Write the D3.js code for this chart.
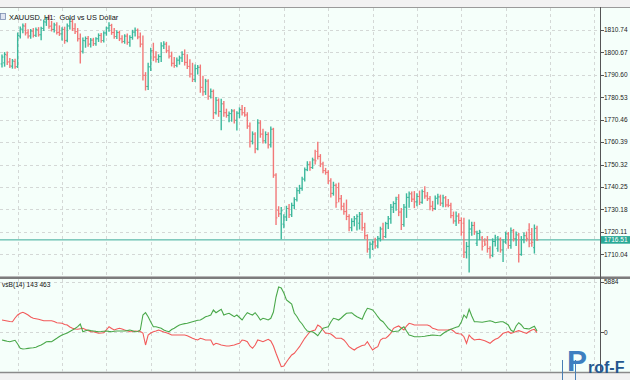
<!DOCTYPE html>
<html><head><meta charset="utf-8">
<script src="https://cdn.jsdelivr.net/npm/d3@7"></script>
<style>body{margin:0;background:#fff}svg{display:block}</style>
</head><body>
<svg id="c" width="630" height="380"></svg>
<script>
const opens = [1795.5,1796.0,1799.5,1796.5,1794.5,1796.6,1794.3,1808.0,1810.8,1812.5,
1809.5,1808.1,1810.2,1808.4,1810.8,1808.6,1811.4,1814.3,1815.6,1812.5,
1811.0,1813.0,1809.7,1809.0,1811.0,1806.1,1812.5,1814.6,1811.3,1810.0,
1806.8,1801.2,1805.9,1806.9,1804.4,1806.2,1804.6,1806.8,1808.3,1806.0,
1809.4,1811.6,1812.8,1809.6,1807.8,1809.6,1806.8,1805.6,1808.0,1805.2,
1807.4,1809.8,1810.6,1807.6,1804.4,1790.4,1785.4,1794.2,1801.4,1798.6,
1797.6,1798.8,1803.6,1804.4,1801.4,1799.0,1795.8,1794.8,1797.2,1798.2,
1799.8,1796.2,1794.4,1791.0,1788.6,1793.4,1794.0,1785.0,1783.0,1787.8,
1781.0,1783.2,1773.6,1779.2,1774.2,1777.6,1773.6,1772.4,1773.2,1774.4,
1770.2,1773.4,1775.0,1773.6,1772.6,1767.6,1760.8,1764.0,1757.4,1769.0,
1764.0,1761.0,1763.8,1759.2,1766.2,1745.6,1729.8,1728.2,1723.6,1726.8,
1730.6,1727.8,1732.0,1734.6,1738.6,1739.6,1743.8,1748.0,1750.4,1749.0,
1752.4,1756.2,1754.0,1750.6,1747.6,1746.8,1743.0,1737.4,1741.0,1740.0,
1735.0,1731.6,1729.2,1727.0,1722.0,1724.8,1726.0,1724.0,1728.0,1722.0,
1718.4,1712.4,1714.6,1715.6,1713.8,1717.2,1721.4,1718.0,1723.8,1726.0,
1731.2,1732.8,1735.6,1729.0,1723.4,1731.2,1735.6,1737.2,1734.8,1733.6,
1736.0,1733.4,1738.2,1736.2,1735.0,1731.6,1730.6,1735.2,1735.8,1733.0,
1735.4,1732.2,1732.0,1727.4,1725.0,1727.2,1725.2,1724.0,1711.0,1713.6,
1721.4,1723.0,1715.0,1719.4,1717.4,1716.0,1716.4,1712.6,1709.6,1715.8,
1712.6,1716.8,1712.0,1715.6,1719.2,1714.0,1720.6,1717.0,1718.6,1710.0,
1716.6,1718.4,1721.0,1719.0,1713.0,1721.8];
const highs = [1799.5,1800.6,1800.9,1797.9,1797.5,1797.6,1809.4,1812.1,1813.4,1813.6,
1810.9,1811.0,1811.4,1811.6,1811.8,1812.0,1815.2,1816.4,1817.4,1814.6,
1813.8,1814.0,1812.6,1811.8,1812.0,1813.4,1815.8,1815.2,1813.6,1811.4,
1809.0,1807.2,1807.6,1807.8,1806.9,1807.0,1807.3,1809.0,1809.2,1810.0,
1812.0,1814.0,1813.3,1811.4,1810.4,1810.2,1808.2,1808.6,1809.0,1808.2,
1810.6,1811.6,1811.2,1809.4,1808.0,1791.6,1795.8,1802.6,1804.8,1801.0,
1799.6,1805.0,1805.5,1805.2,1803.6,1800.8,1798.4,1798.2,1799.0,1801.0,
1801.8,1799.6,1797.4,1795.8,1795.0,1794.8,1795.0,1790.0,1788.6,1788.4,
1784.2,1783.8,1780.4,1779.8,1779.6,1778.6,1775.2,1773.9,1775.0,1774.9,
1774.0,1775.8,1776.8,1776.0,1773.6,1769.0,1765.0,1764.6,1770.4,1770.0,
1766.2,1765.0,1764.6,1767.2,1766.6,1746.2,1731.4,1731.0,1727.8,1731.6,
1732.4,1733.0,1735.4,1739.8,1741.0,1744.6,1748.8,1751.6,1751.6,1753.2,
1756.8,1760.4,1754.8,1751.4,1748.6,1747.6,1744.0,1742.4,1741.6,1742.0,
1736.4,1733.0,1734.4,1727.8,1726.0,1727.0,1727.8,1728.8,1728.8,1724.0,
1718.8,1715.6,1716.0,1717.2,1718.0,1722.2,1724.0,1724.4,1727.0,1732.4,
1733.6,1735.6,1736.8,1730.6,1732.4,1737.2,1738.0,1738.0,1738.2,1737.2,
1738.4,1738.9,1740.4,1737.8,1736.0,1733.8,1736.2,1737.0,1736.6,1736.6,
1736.0,1734.6,1733.0,1729.0,1729.0,1728.2,1726.4,1726.2,1715.4,1725.4,
1724.4,1724.4,1720.4,1720.8,1718.0,1717.0,1718.0,1713.4,1717.0,1718.6,
1718.0,1717.4,1716.6,1720.0,1719.8,1721.8,1721.2,1720.0,1719.4,1718.0,
1719.6,1720.0,1723.8,1721.6,1723.2,1722.6];
const lows = [1794.1,1794.5,1795.2,1793.9,1793.6,1793.6,1793.9,1807.1,1809.5,1808.5,
1807.2,1807.0,1807.6,1807.8,1808.0,1806.4,1810.5,1812.8,1811.5,1810.3,
1809.8,1808.9,1808.3,1806.2,1804.8,1805.5,1811.2,1810.5,1809.2,1805.8,
1795.9,1800.4,1803.0,1803.4,1803.1,1803.8,1803.9,1805.6,1805.2,1805.4,
1808.4,1810.2,1808.8,1807.0,1806.9,1806.0,1805.0,1804.8,1804.3,1803.4,
1806.6,1808.0,1806.8,1803.2,1788.3,1783.8,1784.0,1792.6,1797.0,1796.4,
1796.2,1796.6,1802.4,1800.6,1798.2,1794.6,1794.0,1794.2,1795.4,1796.6,
1795.0,1793.4,1789.6,1787.6,1787.6,1791.0,1782.8,1781.4,1781.8,1779.6,
1780.2,1771.0,1773.0,1772.0,1766.0,1772.0,1771.6,1769.6,1769.8,1769.0,
1765.8,1771.4,1772.6,1772.0,1766.6,1758.2,1759.6,1755.6,1757.0,1762.6,
1760.0,1760.0,1757.8,1758.2,1744.6,1723.4,1727.0,1717.0,1722.0,1725.2,
1726.6,1727.0,1730.6,1734.0,1737.4,1738.8,1743.0,1747.6,1747.8,1748.6,
1750.6,1752.8,1749.4,1746.6,1746.0,1741.8,1735.8,1736.6,1731.2,1733.6,
1730.0,1728.0,1725.6,1720.6,1720.6,1722.8,1721.0,1721.4,1720.8,1717.0,
1711.0,1708.4,1712.2,1712.8,1713.0,1716.0,1716.8,1717.6,1721.6,1724.0,
1728.8,1729.8,1727.4,1721.2,1722.6,1726.6,1731.2,1733.8,1731.0,1731.8,
1732.4,1733.0,1735.2,1734.2,1730.0,1729.6,1730.2,1732.6,1732.0,1731.4,
1731.4,1731.4,1726.4,1724.0,1723.0,1724.0,1718.6,1708.6,1708.4,1702.1,
1718.6,1719.0,1714.0,1716.6,1712.0,1714.0,1711.0,1708.4,1709.0,1713.8,
1711.4,1711.0,1706.8,1715.0,1712.8,1712.8,1716.0,1714.0,1706.6,1709.6,
1715.2,1716.0,1713.4,1713.6,1710.6,1716.4];
const closes = [1798.6,1799.8,1796.3,1794.6,1796.8,1794.2,1808.2,1811.2,1812.6,1809.4,
1808.0,1810.3,1808.3,1810.9,1808.6,1811.5,1814.4,1815.6,1812.4,1811.0,
1813.0,1809.6,1809.0,1811.0,1806.0,1812.6,1814.6,1811.3,1810.0,1806.8,
1801.0,1806.0,1806.9,1804.4,1806.2,1804.6,1806.8,1808.3,1806.0,1809.4,
1811.6,1812.8,1809.6,1807.8,1809.6,1806.8,1805.6,1808.0,1805.2,1807.4,
1809.8,1810.6,1807.6,1804.4,1790.4,1785.4,1794.2,1801.4,1798.6,1797.6,
1798.8,1803.6,1804.4,1801.4,1799.0,1795.8,1794.8,1797.2,1798.2,1799.8,
1796.2,1794.4,1791.0,1788.6,1793.4,1794.0,1785.0,1783.0,1787.8,1781.0,
1783.2,1773.6,1779.2,1774.2,1777.6,1773.6,1772.4,1773.2,1774.4,1770.2,
1773.4,1775.0,1773.6,1772.6,1767.6,1760.8,1764.0,1757.4,1769.0,1764.0,
1761.0,1763.8,1759.2,1766.2,1745.6,1726.4,1728.2,1729.6,1726.8,1730.6,
1727.8,1732.0,1734.6,1738.6,1739.6,1743.8,1748.0,1750.4,1749.0,1752.4,
1752.0,1754.0,1750.6,1747.6,1746.8,1743.0,1737.4,1741.0,1733.2,1735.0,
1731.6,1729.2,1727.0,1722.0,1724.8,1726.0,1727.0,1728.0,1722.0,1718.4,
1712.4,1714.6,1715.6,1713.8,1717.2,1721.4,1718.0,1723.8,1726.0,1731.2,
1732.8,1734.8,1729.0,1723.4,1731.2,1735.6,1737.2,1734.8,1733.6,1736.0,
1733.4,1738.2,1736.2,1735.0,1731.6,1730.6,1735.2,1735.8,1733.0,1735.4,
1732.2,1732.0,1727.4,1725.0,1727.2,1725.2,1720.0,1711.0,1713.6,1721.4,
1723.0,1720.2,1719.4,1720.0,1713.6,1714.6,1712.6,1709.6,1715.8,1717.4,
1716.8,1712.0,1715.6,1719.2,1714.0,1720.6,1717.0,1719.0,1710.0,1716.6,
1718.4,1717.2,1715.0,1715.4,1721.6,1716.51];
// indicator vsB(14): green buffer and red buffer
const vsbGreen = [-896,-965,-1047,-1093,-1012,-930,-1361,-1861,-1942,-1919,
-1872,-1826,-1791,-1733,-1593,-1477,-1303,-1093,-1070,-1093,
-896,-698,-488,-314,-198,-81,93,267,442,651,
965,70,174,267,198,151,105,70,93,128,
151,105,70,116,151,151,151,151,198,267,
174,70,93,267,2012,2279,1814,1198,651,651,
558,465,267,151,70,326,465,675,849,930,
1012,1047,1140,1233,1314,1396,1430,1605,1814,1896,
2012,2593,2279,2477,2675,2012,2128,2210,2012,1814,
2012,1721,1430,1896,2279,2128,2012,2279,1896,1430,
1628,1547,1430,1628,2361,4105,5268,5152,4571,3756,
3524,3291,2245,1838,1314,965,500,151,70,70,
-140,-395,35,465,558,651,1198,1628,1547,1430,
1663,1954,2210,2245,2279,2012,1814,1663,1512,2245,
2791,2710,2593,2245,1814,1430,1233,849,465,209,
70,116,151,442,651,151,-314,-407,-512,-512,
-512,-488,-454,-395,-361,-314,-337,-372,-395,-140,
70,209,349,465,582,675,1198,2012,1663,2675,
1896,1233,1233,1198,1163,1233,1291,1349,1256,1116,
1175,1233,1233,1047,849,267,70,733,1116,849,
465,430,384,558,698,143];
const vsbRed = [1430,1372,1314,1256,1233,1663,2012,2210,2326,2186,
2012,1779,1628,1570,1512,1430,1349,1349,1349,1349,
1256,1116,1082,1047,907,849,616,465,384,349,
407,465,326,209,70,70,-23,-116,-81,-47,
267,651,442,267,384,465,384,267,174,70,
93,151,128,93,-81,-1477,-314,-81,70,151,
267,151,35,-47,-174,-314,-314,-314,-314,-314,
-314,-407,-547,-698,-802,-896,-698,-779,-896,-896,
-896,-1477,-1279,-1361,-1477,-1535,-1593,-1593,-1535,-1477,
-1361,-1279,-896,-954,-1093,-1593,-1861,-1477,-896,-977,
-1093,-954,-814,-1012,-1593,-2442,-3222,-4001,-3919,-3454,
-3024,-2640,-2442,-2059,-1675,-1186,-698,-314,70,174,
267,849,651,267,-116,-116,-198,-430,-698,-698,
-698,-896,-1244,-1675,-1884,-2059,-1826,-1675,-1535,-1477,
-1093,-1593,-2059,-1826,-1675,-896,-698,-698,-430,-116,
465,616,733,500,267,733,1047,965,849,849,
849,849,849,849,733,465,384,267,267,267,
267,291,349,151,-116,-163,-198,-512,-1279,-314,
-663,-896,-837,-814,-896,-977,-1128,-1279,-1012,-814,
-698,-430,-116,-23,70,-116,-23,93,186,93,
-23,-116,93,267,349,-47];
const priceTicks = [1810.74,1800.67,1790.60,1780.53,1770.46,1760.39,1750.32,1740.25,1730.18,1720.11,1710.04];
const indTicks = [5884, 0];
const gridBars = [6,23,40,57,74,91,108,125,142,159,176,193,210,227];
const lastPrice = 1716.51;
const chartTitle = "XAUUSD, H1:  Gold vs US Dollar";
const indTitle = "vsB(14) 143 463";

const W=630,H=380, AX=600, MT=8, MB=276, IT=279, IB=372;
const N = closes.length;
const FONT = "'Liberation Sans', Arial, sans-serif";
const BG='#f5fffa', UP='#3cb89c', DN='#f27878', GRID='#d4d8d6', TXT='#222';
const svg = d3.select('#c');
const x = d3.scaleLinear().domain([0, N-1]).range([2, 537]);
const y = d3.scaleLinear().domain([1710.04, 1810.74]).range([254.3, 30]);
const yi = d3.scaleLinear().domain([0, 5884]).range([332.3, 281.7]);

const defs = svg.append('defs');
defs.append('clipPath').attr('id','cm').append('rect').attr('x',0).attr('y',MT).attr('width',AX).attr('height',MB-MT);
defs.append('clipPath').attr('id','ci').append('rect').attr('x',0).attr('y',IT).attr('width',AX).attr('height',IB-IT);

svg.append('rect').attr('width',W).attr('height',H).attr('fill','#f2f2f2');
svg.append('rect').attr('x',0).attr('y',MT).attr('width',W).attr('height',MB-MT).attr('fill',BG);
svg.append('rect').attr('x',0).attr('y',IT).attr('width',W).attr('height',IB-IT).attr('fill',BG);
svg.append('line').attr('x1',0).attr('x2',W).attr('y1',7.5).attr('y2',7.5).attr('stroke','#9a9a9a');
svg.append('rect').attr('x',0).attr('y',MB+0.5).attr('width',W).attr('height',2.5).attr('fill','#7c7c7c');
svg.append('line').attr('x1',0).attr('x2',W).attr('y1',IB+0.5).attr('y2',IB+0.5).attr('stroke','#8a8a8a').attr('stroke-width',1.5);

// grids
const gm = svg.append('g').attr('clip-path','url(#cm)');
const gi = svg.append('g').attr('clip-path','url(#ci)');
gm.selectAll('line.h').data(priceTicks).join('line')
  .attr('x1',0).attr('x2',AX).attr('y1',d=>Math.round(y(d))+0.5).attr('y2',d=>Math.round(y(d))+0.5)
  .attr('stroke',GRID).attr('stroke-dasharray','3,3');
[gm, gi].forEach((g,k)=>{
  g.selectAll('line.v').data(gridBars.filter(b=>x(b)<AX)).join('line')
   .attr('x1',d=>Math.round(x(d))+0.5).attr('x2',d=>Math.round(x(d))+0.5)
   .attr('y1',k?IT:MT).attr('y2',k?IB:MB)
   .attr('stroke',GRID).attr('stroke-dasharray','3,3');
});
gi.selectAll('line.h').data(indTicks).join('line')
  .attr('x1',0).attr('x2',AX).attr('y1',d=>Math.round(yi(d))+0.5).attr('y2',d=>Math.round(yi(d))+0.5)
  .attr('stroke',GRID).attr('stroke-dasharray','3,3');

// price line
gm.append('line').attr('x1',0).attr('x2',AX).attr('y1',y(lastPrice)).attr('y2',y(lastPrice))
  .attr('stroke','#3aaa98').attr('stroke-width',1);

// OHLC bars
const bars = d3.range(N).map(i=>({i,o:opens[i],h:highs[i],l:lows[i],c:closes[i]}));
const bg = gm.selectAll('g.bar').data(bars).join('g').attr('class','bar')
  .attr('stroke',d=>d.c>=d.o?UP:DN);
bg.append('line').attr('x1',d=>x(d.i)).attr('x2',d=>x(d.i))
  .attr('y1',d=>y(d.h)-0.5).attr('y2',d=>y(d.l)+0.5).attr('stroke-width',1.4);
bg.append('line').attr('x1',d=>x(d.i)-1.4).attr('x2',d=>x(d.i))
  .attr('y1',d=>y(d.o)).attr('y2',d=>y(d.o)).attr('stroke-width',1);
bg.append('line').attr('x1',d=>x(d.i)).attr('x2',d=>x(d.i)+1.4)
  .attr('y1',d=>y(d.c)).attr('y2',d=>y(d.c)).attr('stroke-width',1);

// indicator lines
const line = d3.line().x((d,i)=>x(i)).y(d=>yi(d)).curve(d3.curveLinear);
gi.append('path').datum(vsbRed).attr('d',line).attr('fill','none').attr('stroke','#f25a5a').attr('stroke-width',1.1);
gi.append('path').datum(vsbGreen).attr('d',line).attr('fill','none').attr('stroke','#4aa84a').attr('stroke-width',1.1);

// right axis
svg.append('line').attr('x1',AX+0.5).attr('x2',AX+0.5).attr('y1',7).attr('y2',IB).attr('stroke','#555');
const ax = svg.append('g');
ax.selectAll('line.t').data(priceTicks).join('line')
  .attr('x1',AX).attr('x2',AX+4).attr('y1',d=>Math.round(y(d))+0.5).attr('y2',d=>Math.round(y(d))+0.5).attr('stroke','#555');
ax.selectAll('text.t').data(priceTicks).join('text')
  .attr('x',AX+4).attr('y',d=>y(d)+2.3).text(d=>d.toFixed(2))
  .attr('font-family',FONT).attr('font-size',6.5).attr('fill',TXT);
ax.selectAll('line.i').data(indTicks).join('line')
  .attr('x1',AX).attr('x2',AX+4).attr('y1',d=>Math.round(yi(d))+0.5).attr('y2',d=>Math.round(yi(d))+0.5).attr('stroke','#555');
ax.selectAll('text.i').data(indTicks).join('text')
  .attr('x',AX+4).attr('y',d=>yi(d)+2.3).text(d=>d)
  .attr('font-family',FONT).attr('font-size',6.5).attr('fill',TXT);

// last price label
ax.append('rect').attr('x',AX+1).attr('y',y(lastPrice)-3.8).attr('width',29).attr('height',7.6).attr('fill','#2aa996');
ax.append('text').attr('x',AX+4).attr('y',y(lastPrice)+2.3).text(lastPrice.toFixed(2))
  .attr('font-family',FONT).attr('font-size',6.5).attr('fill','#fff');

// titles
svg.append('rect').attr('x',0.5).attr('y',13.5).attr('width',5).attr('height',6).attr('fill','#dfe6f2').attr('stroke','#7a8db0').attr('stroke-width',0.8);
svg.append('text').attr('x',9).attr('y',19.5).text(chartTitle)
  .attr('font-family',FONT).attr('font-size',7.4).attr('fill','#111').attr('xml:space','preserve').style('white-space','pre');
svg.append('text').attr('x',2).attr('y',287).text(indTitle)
  .attr('font-family',FONT).attr('font-size',6.6).attr('fill','#111');

// watermark
const wm = svg.append('g');
wm.append('line').attr('x1',562.5).attr('x2',562.5).attr('y1',360).attr('y2',380).attr('stroke','#4a7fb5').attr('stroke-width',1);
wm.append('line').attr('x1',575.5).attr('x2',575.5).attr('y1',360).attr('y2',380).attr('stroke','#4a7fb5').attr('stroke-width',1);
wm.append('text').attr('x',567).attr('y',371).text('P')
  .attr('font-family',FONT).attr('font-weight','bold').attr('font-size',30).attr('fill','#3d7fc0');
wm.append('text').attr('x',588).attr('y',373).text('rof-F')
  .attr('font-family',FONT).attr('font-weight','bold').attr('font-size',16).attr('fill','#24578f');
</script>
</body></html>
